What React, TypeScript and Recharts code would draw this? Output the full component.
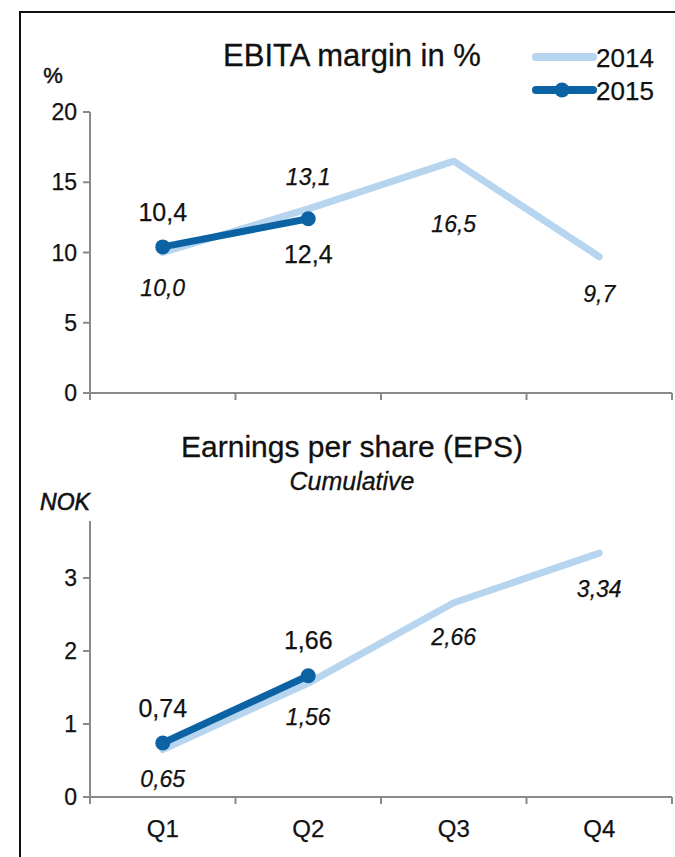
import React from 'react';
import { LineChart, Line, XAxis, YAxis, LabelList } from 'recharts';

const quarters = ['Q1', 'Q2', 'Q3', 'Q4'];
const quarterPos = [1, 2, 3, 4];
const ebita2014 = [10.0, 13.1, 16.5, 9.7];
const ebita2015 = [10.4, 12.4];
const eps2014 = [0.65, 1.56, 2.66, 3.34];
const eps2015 = [0.74, 1.66];
const ebitaTicks = [0, 5, 10, 15, 20];
const epsTicks = [0, 1, 2, 3];
const boundaryTicks = [0.5, 1.5, 2.5, 3.5, 4.5];
const seriesNames = ['2014', '2015'];

// label offsets (style)
const ebita2014Dy = [35, -32, 63, 37];
const ebita2015Dy = [-35, 35];
const eps2014Dy = [29, 34, 34, 36];
const eps2015Dy = [-35, -36];

const ebitaData = quarterPos.map((x, i) => ({ x, q: quarters[i], y2014: ebita2014[i], y2015: ebita2015[i] }));
const epsData = quarterPos.map((x, i) => ({ x, q: quarters[i], y2014: eps2014[i], y2015: eps2015[i] }));

const LIGHT = '#B7D5EE';
const DARK = '#0B63A4';
const AXIS = '#8A8A8A';
const FONT = '"Liberation Sans", Arial, sans-serif';
const INK = '#111';

const fmt = (v: number, d: number) => v.toFixed(d).replace('.', ',');

const makeLabel = (dys: number[], digits: number, italic: boolean, size: number) => (p: any) => {
  const { x, y, value, index } = p;
  if (value === undefined || value === null) return null;
  return (
    <text x={x} y={y + dys[index]} textAnchor="middle" dominantBaseline="central"
      fontFamily={FONT} fontSize={size} fontStyle={italic ? 'italic' : 'normal'} fill={INK}
      stroke={INK} strokeWidth={0.25}>
      {fmt(value, digits)}
    </text>
  );
};

const YTick = (p: any) => {
  const { x, y, payload } = p;
  return (
    <text x={x} y={y} textAnchor="end" dominantBaseline="central" fontFamily={FONT} fontSize={23} fill={INK}
      stroke={INK} strokeWidth={0.25}>
      {payload.value}
    </text>
  );
};

const NoTick = () => <g />;

const QTick = (p: any) => {
  const { x, y, payload } = p;
  const idx = payload.value - 0.5;
  if (idx < 0 || idx >= quarters.length) return <g />;
  return (
    <text x={x + 72.75} y={y + 22} textAnchor="middle" dominantBaseline="central" fontFamily={FONT} fontSize={24} fill={INK}
      stroke={INK} strokeWidth={0.25}>
      {quarters[idx]}
    </text>
  );
};

const LegendBox = () => (
  <svg width={146} height={80} style={{ position: 'absolute', left: 527, top: 40 }}>
    <line x1={9} y1={17} x2={66} y2={17} stroke={LIGHT} strokeWidth={8} strokeLinecap="round" />
    <text x={69} y={18} dominantBaseline="central" fontFamily={FONT} fontSize={26} fill={INK} stroke={INK} strokeWidth={0.25}>{seriesNames[0]}</text>
    <line x1={9} y1={50} x2={66} y2={50} stroke={DARK} strokeWidth={8} strokeLinecap="round" />
    <circle cx={35} cy={50} r={7.5} fill={DARK} />
    <text x={69} y={51} dominantBaseline="central" fontFamily={FONT} fontSize={26} fill={INK} stroke={INK} strokeWidth={0.25}>{seriesNames[1]}</text>
  </svg>
);

export default function App() {
  return (
    <div style={{ position: 'absolute', left: 0, top: 0, width: 675, height: 857, overflow: 'hidden', background: '#fff', fontFamily: FONT }}>
      <div style={{ position: 'absolute', left: 19, top: 11, width: 700, height: 900, borderLeft: '2px solid #111', borderTop: '2px solid #111' }} />
      <div style={{ position: 'absolute', left: 0, top: 0 }}>
        <LineChart width={675} height={430} data={ebitaData} margin={{ top: 112, right: 3, bottom: 0, left: 0 }}>
          <XAxis type="number" dataKey="x" domain={[0.5, 4.5]} ticks={boundaryTicks} tick={NoTick} height={37}
            axisLine={{ stroke: AXIS, strokeWidth: 2 }} tickLine={{ stroke: AXIS, strokeWidth: 2 }} tickSize={7} />
          <YAxis type="number" domain={[0, 20]} ticks={ebitaTicks} width={90} tick={YTick} tickSize={7} tickMargin={6}
            axisLine={{ stroke: AXIS, strokeWidth: 2 }} tickLine={{ stroke: AXIS, strokeWidth: 2 }} />
          <Line dataKey="y2014" name={seriesNames[0]} stroke={LIGHT} strokeWidth={7} dot={false} isAnimationActive={false}
            strokeLinecap="round" strokeLinejoin="round">
            <LabelList dataKey="y2014" content={makeLabel(ebita2014Dy, 1, true, 23)} />
          </Line>
          <Line dataKey="y2015" name={seriesNames[1]} stroke={DARK} strokeWidth={7} dot={{ r: 7.5, fill: DARK, stroke: 'none' }}
            isAnimationActive={false} strokeLinecap="round" strokeLinejoin="round">
            <LabelList dataKey="y2015" content={makeLabel(ebita2015Dy, 1, false, 25)} />
          </Line>
        </LineChart>
      </div>
      <div style={{ position: 'absolute', left: 0, top: 500 }}>
        <LineChart width={675} height={357} data={epsData} margin={{ top: 21, right: 3, bottom: 0, left: 0 }}>
          <XAxis type="number" dataKey="x" domain={[0.5, 4.5]} ticks={boundaryTicks} tick={QTick} height={60}
            axisLine={{ stroke: AXIS, strokeWidth: 2 }} tickLine={{ stroke: AXIS, strokeWidth: 2 }} tickSize={7} />
          <YAxis type="number" domain={[0, 3.78]} ticks={epsTicks} width={90} tick={YTick} tickSize={7} tickMargin={6}
            axisLine={{ stroke: AXIS, strokeWidth: 2 }} tickLine={{ stroke: AXIS, strokeWidth: 2 }} />
          <Line dataKey="y2014" name={seriesNames[0]} stroke={LIGHT} strokeWidth={7} dot={false} isAnimationActive={false}
            strokeLinecap="round" strokeLinejoin="round">
            <LabelList dataKey="y2014" content={makeLabel(eps2014Dy, 2, true, 23)} />
          </Line>
          <Line dataKey="y2015" name={seriesNames[1]} stroke={DARK} strokeWidth={7} dot={{ r: 7.5, fill: DARK, stroke: 'none' }}
            isAnimationActive={false} strokeLinecap="round" strokeLinejoin="round">
            <LabelList dataKey="y2015" content={makeLabel(eps2015Dy, 2, false, 25)} />
          </Line>
        </LineChart>
      </div>
      <LegendBox />
      <div style={{ position: 'absolute', left: 352, top: 56, transform: 'translate(-50%, -50%)', fontSize: 31, color: INK, whiteSpace: 'nowrap', WebkitTextStroke: '0.3px #111' }}>EBITA margin in %</div>
      <div style={{ position: 'absolute', left: 53, top: 76, transform: 'translate(-50%, -50%)', fontSize: 22, color: INK, WebkitTextStroke: '0.5px #111' }}>%</div>
      <div style={{ position: 'absolute', left: 352, top: 447, transform: 'translate(-50%, -50%)', fontSize: 30, color: INK, whiteSpace: 'nowrap', WebkitTextStroke: '0.3px #111' }}>Earnings per share (EPS)</div>
      <div style={{ position: 'absolute', left: 352, top: 481, transform: 'translate(-50%, -50%)', fontSize: 25, fontStyle: 'italic', color: INK, whiteSpace: 'nowrap', WebkitTextStroke: '0.3px #111' }}>Cumulative</div>
      <div style={{ position: 'absolute', left: 65, top: 502, transform: 'translate(-50%, -50%)', fontSize: 23, fontStyle: 'italic', color: INK, WebkitTextStroke: '0.6px #111' }}>NOK</div>
    </div>
  );
}
